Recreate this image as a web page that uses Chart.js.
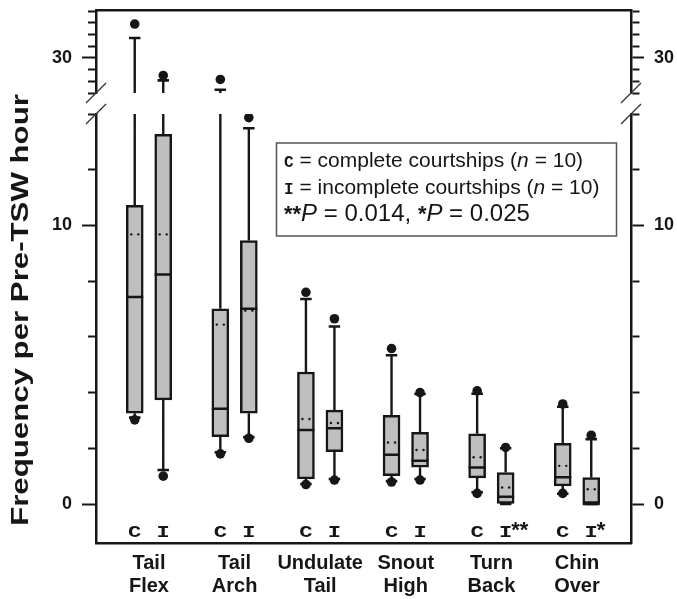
<!DOCTYPE html>
<html>
<head>
<meta charset="utf-8">
<script src="https://cdn.jsdelivr.net/npm/chart.js@4.4.1/dist/chart.umd.min.js"></script>
<style>
html,body{margin:0;padding:0;background:#fff;overflow:hidden}
#wrap{width:677px;height:599px;position:relative}
canvas{display:block}
</style>
</head>
<body>
<div id="wrap"><canvas id="c" width="677" height="599" style="width:677px;height:599px"></canvas></div>
<script>
// ---------- data ----------
const categories = [['Tail','Flex'],['Tail','Arch'],['Undulate','Tail'],['Snout','High'],['Turn','Back'],['Chin','Over']];
const groupCodes = ['C','I'];
// boxes in order: TailFlex C, TailFlex I, TailArch C, TailArch I, Undulate C, Undulate I,
// Snout C, Snout I, TurnBack C, TurnBack I, ChinOver C, ChinOver I
const q1          = [3.26, 3.74, 2.42, 3.26, 0.90, 1.88, 1.02, 1.32, 0.94, 0.00, 0.65, 0.00];
const q3          = [10.72, 13.27, 7.01, 9.46, 4.74, 3.37, 3.18, 2.57, 2.52, 1.13, 2.18, 0.95];
const median      = [7.43, 8.24, 3.42, 7.01, 2.66, 2.72, 1.77, 1.55, 1.31, 0.26, 0.96, 0.00];
const mean        = [9.68, 9.68, 6.44, 6.94, 3.05, 2.91, 2.21, 1.94, 1.68, 0.59, 1.37, 0.53];
const whiskerLow  = [3.10, 1.22, 1.86, 2.40, 0.72, 0.90, 0.82, 0.90, 0.42, 0.00, 0.37, 0.00];
const whiskerHigh = [31.7, 28.08, 27.28, 13.49, 7.36, 6.37, 5.34, 3.95, 3.96, 2.00, 3.49, 2.33];
const outlierLow  = [3.02, 1.00, 1.80, 2.36, 0.70, 0.86, 0.79, 0.86, 0.38, null, 0.38, null];
const outlierHigh = [32.9, 28.5, 28.16, 13.87, 7.60, 6.65, 5.58, 4.00, 4.06, 2.03, 3.59, 2.47];
const significance = ['', '', '', '', '', '', '', '', '', '**', '', '*'];
const lowerTicks  = [0, 2, 4, 6, 8, 10, 12, 14];
const lowerLabels = [0, 10];
const upperTicks  = [27, 28, 29, 30, 31, 32, 33, 34];
const upperLabels = [30];
const yTitle = 'Frequency per Pre-TSW hour';

// ---------- style / layout ----------
const SANS = '"Liberation Sans", Arial, Helvetica, sans-serif';
const MONO = '"Liberation Mono", "Courier New", monospace';
const INK = '#161616';
const LO_MIN = -1.4, LO_MAX = 14, UP_MIN = 27, UP_MAX = 34.1;
const X_MIN = -0.619, X_MAX = 5.631;
const OFF = 0.1665, CAP = 0.067, HALF = 0.0995, MD = 0.041;

Chart.defaults.font.family = SANS;
Chart.defaults.color = INK;

const pos = q1.map((_, i) => Math.floor(i / 2) + (i % 2 ? OFF : -OFF));
function segs(list) {
  const out = [];
  list.forEach(([x1, y1, x2, y2]) => { out.push({x: x1, y: y1}, {x: x2, y: y2}, {x: x2, y: null}); });
  return out;
}
const wLow = [], wUp = [], capLow = [], capUp = [], med = [], meanPts = [], outLow = [], outUp = [];
pos.forEach((p, i) => {
  wLow.push([p, q1[i], p, whiskerLow[i]]);
  wLow.push([p, q3[i], p, Math.min(whiskerHigh[i], LO_MAX)]);
  if (whiskerHigh[i] > LO_MAX) wUp.push([p, UP_MIN, p, whiskerHigh[i]]);
  capLow.push([p - CAP, whiskerLow[i], p + CAP, whiskerLow[i]]);
  (whiskerHigh[i] > LO_MAX ? capUp : capLow).push([p - CAP, whiskerHigh[i], p + CAP, whiskerHigh[i]]);
  med.push([p - HALF, median[i], p + HALF, median[i]]);
  meanPts.push({x: p - MD, y: mean[i]}, {x: p + MD, y: mean[i]});
  [outlierLow[i], outlierHigh[i]].forEach(v => {
    if (v == null) return;
    (v > LO_MAX ? outUp : outLow).push({x: p, y: v});
  });
});

const lineDS = (data, yAxisID, width, order) => ({
  type: 'line', data: segs(data), xAxisID: 'x', yAxisID, borderColor: INK, borderWidth: width,
  pointRadius: 0, fill: false, tension: 0, spanGaps: false, order, borderCapStyle: 'butt'
});
const dotDS = (data, yAxisID, r, order) => ({
  type: 'line', data, xAxisID: 'x', yAxisID, showLine: false, pointRadius: r, pointBorderWidth: 0,
  pointBackgroundColor: INK, pointBorderColor: INK, order
});

const noPad = s => { s.paddingTop = 0; s.paddingBottom = 0; s.paddingLeft = 0; s.paddingRight = 0; };
const tickFont = {family: SANS, size: 18, weight: 'bold'};
function valueAxis(side, min, max, ticksArr, labelsArr, sw, wt) {
  const left = side === 'left';
  return {
    type: 'linear', position: side, stack: left ? 'L' : 'R', stackWeight: sw, weight: wt,
    min, max, offset: false,
    afterBuildTicks: s => { s.ticks = ticksArr.map(v => ({value: v})); },
    afterFit: s => { s.width = left ? 96 : 46; noPad(s); },
    ticks: {autoSkip: false, font: tickFont, color: INK, padding: left ? 10 : 10,
      callback: v => labelsArr.includes(v) ? String(v) : ''},
    grid: {display: true, drawOnChartArea: false, drawTicks: true, tickLength: left ? 14 : 13,
      tickWidth: 2, tickColor: INK,
      tickBorderDash: c => (c.tick && labelsArr.includes(c.tick.value)) ? [] : (left ? [0, 6, 8, 100] : [7, 100])},
    border: {display: true, width: 2.5, color: INK}
  };
}
function gapAxis(side, sw, wt) {
  const left = side === 'left';
  return {
    type: 'linear', position: side, stack: left ? 'L' : 'R', stackWeight: sw, weight: wt,
    min: LO_MAX, max: UP_MIN,
    afterFit: s => { s.width = left ? 96 : 46; noPad(s); },
    ticks: {display: false}, grid: {display: false, drawTicks: false}, border: {display: false}
  };
}

function drawRich(ctx, parts, x, y) {
  parts.forEach(p => {
    ctx.font = p.f;
    ctx.fillText(p.t, x, y + (p.dy || 0));
    x += ctx.measureText(p.t).width;
  });
}

const deco = {
  id: 'deco',
  afterDraw(chart) {
    const ctx = chart.ctx, ca = chart.chartArea;
    const xs = chart.scales.x, yl = chart.scales.yLowL, yu = chart.scales.yUpL;
    ctx.save();
    // axis break marks
    ctx.strokeStyle = '#333'; ctx.lineWidth = 1.2;
    [ca.left, ca.right].forEach(ax => {
      [yu.bottom, yl.top].forEach(py => {
        ctx.beginPath(); ctx.moveTo(ax - 10, py + 10); ctx.lineTo(ax + 10, py - 10); ctx.stroke();
      });
    });
    // y title
    ctx.save();
    ctx.fillStyle = INK;
    ctx.translate(28, 310);
    ctx.rotate(-Math.PI / 2);
    ctx.scale(1.3, 1);
    ctx.font = 'bold 24px ' + SANS;
    ctx.textAlign = 'center'; ctx.textBaseline = 'alphabetic';
    ctx.fillText(yTitle, 0, 0);
    ctx.restore();
    // C / I labels under boxes
    ctx.fillStyle = INK;
    const by = ca.bottom - 6.5;
    pos.forEach((p, i) => {
      const px = xs.getPixelForValue(p);
      ctx.save();
      ctx.translate(px, by);
      ctx.scale(1.3, 1);
      ctx.font = 'bold 17px ' + MONO;
      ctx.textAlign = 'center'; ctx.textBaseline = 'alphabetic';
      const code = groupCodes[i % 2];
      ctx.fillText(code, 0, 0);
      const hw = ctx.measureText(code).width / 2;
      ctx.restore();
      if (significance[i]) {
        ctx.font = 'bold 22px ' + SANS;
        ctx.textAlign = 'left'; ctx.textBaseline = 'alphabetic';
        ctx.fillText(significance[i], px + hw * 1.3 - 1, by);
      }
    });
    // legend box
    ctx.fillStyle = '#fff';
    ctx.fillRect(276.5, 143, 340, 93);
    ctx.strokeStyle = '#555'; ctx.lineWidth = 1.5;
    ctx.strokeRect(276.5, 143, 340, 93);
    ctx.fillStyle = INK; ctx.textAlign = 'left'; ctx.textBaseline = 'alphabetic';
    const R = '21px ' + SANS, IT = 'italic 21px ' + SANS, M = 'bold 16px ' + MONO;
    drawRich(ctx, [{t: 'C', f: M}, {t: ' = complete courtships (', f: R}, {t: 'n', f: IT}, {t: ' = 10)', f: R}], 284, 167);
    drawRich(ctx, [{t: 'I', f: M}, {t: ' = incomplete courtships (', f: R}, {t: 'n', f: IT}, {t: ' = 10)', f: R}], 284, 193.5);
    const B = 'bold 22px ' + SANS, R2 = '24px ' + SANS, I2 = 'italic 24px ' + SANS;
    drawRich(ctx, [{t: '**', f: B}, {t: 'P', f: I2}, {t: ' = 0.014, ', f: R2}, {t: '*', f: B}, {t: 'P', f: I2}, {t: ' = 0.025', f: R2}], 284, 221);
    ctx.restore();
  }
};

new Chart(document.getElementById('c'), {
  type: 'bar',
  data: {
    datasets: [
      {type: 'bar', data: pos.map((p, i) => ({x: p, y: [q1[i], q3[i]]})), xAxisID: 'x', yAxisID: 'yLowL',
        backgroundColor: '#bfbfbf', borderColor: INK, borderWidth: 2.5, borderSkipped: false,
        barThickness: 17, order: 5},
      lineDS(wLow, 'yLowL', 2.4, 6),
      lineDS(wUp, 'yUpL', 2.4, 6),
      lineDS(med, 'yLowL', 2.5, 4),
      lineDS(capLow, 'yLowL', 2.6, 3),
      lineDS(capUp, 'yUpL', 2.6, 3),
      dotDS(meanPts, 'yLowL', 1.2, 2),
      dotDS(outLow, 'yLowL', 4.8, 1),
      dotDS(outUp, 'yUpL', 4.8, 1)
    ]
  },
  options: {
    responsive: false,
    animation: false,
    events: [],
    layout: {padding: 0, autoPadding: false},
    plugins: {legend: {display: false}, tooltip: {enabled: false}, title: {display: false}},
    scales: {
      x: {
        type: 'linear', position: 'bottom', min: X_MIN, max: X_MAX, offset: false,
        afterBuildTicks: s => { s.ticks = categories.map((_, i) => ({value: i})); },
        afterFit: s => { s.height = 56; noPad(s); },
        ticks: {autoSkip: false, maxRotation: 0, minRotation: 0, padding: 9, color: INK,
          font: {family: SANS, size: 20, weight: 'bold', lineHeight: 1.15},
          callback: v => categories[v]},
        grid: {display: false, drawTicks: false, offset: false},
        border: {display: true, width: 2.5, color: INK}
      },
      xTop: {
        type: 'linear', position: 'top', min: X_MIN, max: X_MAX, offset: false,
        afterFit: s => { s.height = 10; noPad(s); },
        ticks: {display: false}, grid: {display: false, drawTicks: false},
        border: {display: true, width: 2.5, color: INK}
      },
      yLowL: valueAxis('left', LO_MIN, LO_MAX, lowerTicks, lowerLabels, 429, 1),
      yGapL: gapAxis('left', 21, 2),
      yUpL: valueAxis('left', UP_MIN, UP_MAX, upperTicks, upperLabels, 83, 3),
      yUpR: valueAxis('right', UP_MIN, UP_MAX, upperTicks, upperLabels, 83, 1),
      yGapR: gapAxis('right', 21, 2),
      yLowR: valueAxis('right', LO_MIN, LO_MAX, lowerTicks, lowerLabels, 429, 3)
    }
  },
  plugins: [deco]
});
</script>
</body>
</html>
